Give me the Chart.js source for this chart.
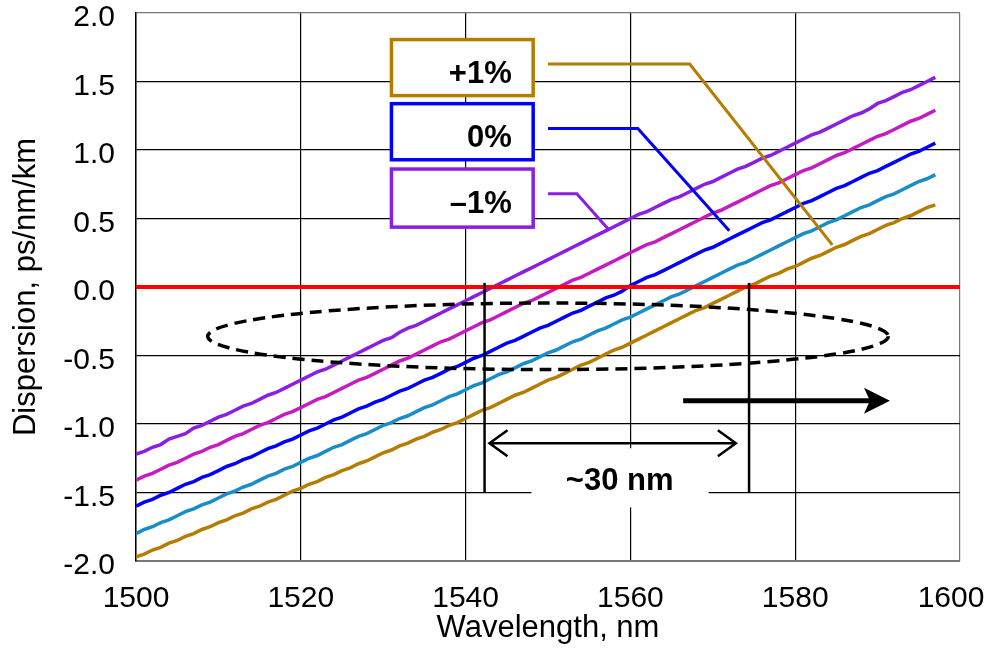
<!DOCTYPE html>
<html>
<head>
<meta charset="utf-8">
<script src="https://cdn.jsdelivr.net/npm/chart.js@4.4.1/dist/chart.umd.min.js"></script>
<style>
  body { margin: 0; background: #fff; }
  #wrap { width: 990px; height: 651px; }
</style>
</head>
<body>
<div id="wrap"><canvas id="chart" width="990" height="651"></canvas></div>
<script>
// wavelength, nm
const wavelengths = [
  1500, 1501, 1502, 1503, 1504, 1505, 1506, 1507, 1508, 1509,
  1510, 1511, 1512, 1513, 1514, 1515, 1516, 1517, 1518, 1519,
  1520, 1521, 1522, 1523, 1524, 1525, 1526, 1527, 1528, 1529,
  1530, 1531, 1532, 1533, 1534, 1535, 1536, 1537, 1538, 1539,
  1540, 1541, 1542, 1543, 1544, 1545, 1546, 1547, 1548, 1549,
  1550, 1551, 1552, 1553, 1554, 1555, 1556, 1557, 1558, 1559,
  1560, 1561, 1562, 1563, 1564, 1565, 1566, 1567, 1568, 1569,
  1570, 1571, 1572, 1573, 1574, 1575, 1576, 1577, 1578, 1579,
  1580, 1581, 1582, 1583, 1584, 1585, 1586, 1587, 1588, 1589,
  1590, 1591, 1592, 1593, 1594, 1595, 1596, 1597
];

// dispersion, ps/nm/km (one list per curve)
const dispMinus1 = [
  -1.22, -1.20, -1.17, -1.15, -1.11, -1.09, -1.07, -1.03, -1.01, -0.98,
  -0.95, -0.93, -0.90, -0.87, -0.85, -0.82, -0.79, -0.77, -0.74, -0.71,
  -0.68, -0.65, -0.62, -0.60, -0.57, -0.54, -0.51, -0.48, -0.45, -0.42,
  -0.39, -0.37, -0.33, -0.30, -0.28, -0.25, -0.22, -0.19, -0.16, -0.13,
  -0.10, -0.07, -0.04, -0.01, 0.02, 0.05, 0.08, 0.11, 0.14, 0.17,
  0.20, 0.23, 0.26, 0.29, 0.32, 0.35, 0.38, 0.41, 0.44, 0.47,
  0.50, 0.53, 0.55, 0.58, 0.61, 0.64, 0.66, 0.69, 0.72, 0.75,
  0.77, 0.80, 0.83, 0.86, 0.88, 0.91, 0.94, 0.96, 0.99, 1.02,
  1.05, 1.08, 1.11, 1.13, 1.16, 1.19, 1.22, 1.25, 1.27, 1.30,
  1.34, 1.36, 1.39, 1.42, 1.44, 1.47, 1.50, 1.53
];
const dispMinusHalf = [
  -1.41, -1.38, -1.36, -1.33, -1.30, -1.28, -1.25, -1.22, -1.20, -1.17,
  -1.15, -1.12, -1.09, -1.07, -1.04, -1.01, -0.99, -0.96, -0.93, -0.91,
  -0.88, -0.85, -0.82, -0.80, -0.77, -0.74, -0.71, -0.68, -0.66, -0.63,
  -0.60, -0.57, -0.54, -0.52, -0.49, -0.46, -0.43, -0.40, -0.38, -0.35,
  -0.32, -0.29, -0.26, -0.24, -0.21, -0.18, -0.15, -0.12, -0.10, -0.07,
  -0.04, -0.01, 0.02, 0.05, 0.07, 0.10, 0.13, 0.16, 0.19, 0.22,
  0.25, 0.28, 0.31, 0.33, 0.36, 0.39, 0.42, 0.45, 0.48, 0.51,
  0.54, 0.56, 0.59, 0.62, 0.65, 0.68, 0.71, 0.74, 0.76, 0.79,
  0.82, 0.85, 0.87, 0.90, 0.93, 0.96, 0.98, 1.01, 1.04, 1.07,
  1.10, 1.12, 1.15, 1.18, 1.21, 1.23, 1.26, 1.29
];
const dispZero = [
  -1.60, -1.57, -1.55, -1.52, -1.50, -1.47, -1.44, -1.42, -1.39, -1.37,
  -1.34, -1.31, -1.29, -1.26, -1.24, -1.21, -1.18, -1.16, -1.13, -1.11,
  -1.08, -1.05, -1.03, -1.00, -0.97, -0.95, -0.92, -0.89, -0.87, -0.84,
  -0.82, -0.79, -0.76, -0.74, -0.71, -0.68, -0.66, -0.63, -0.60, -0.58,
  -0.55, -0.52, -0.50, -0.47, -0.44, -0.41, -0.39, -0.36, -0.33, -0.30,
  -0.28, -0.25, -0.22, -0.19, -0.17, -0.14, -0.11, -0.08, -0.06, -0.03,
  0.01, 0.04, 0.07, 0.09, 0.12, 0.15, 0.18, 0.21, 0.24, 0.27,
  0.29, 0.32, 0.35, 0.38, 0.41, 0.44, 0.47, 0.49, 0.52, 0.55,
  0.58, 0.61, 0.63, 0.66, 0.69, 0.72, 0.74, 0.77, 0.80, 0.83,
  0.85, 0.88, 0.91, 0.94, 0.97, 0.99, 1.02, 1.05
];
const dispPlusHalf = [
  -1.80, -1.77, -1.75, -1.72, -1.70, -1.67, -1.64, -1.62, -1.59, -1.57,
  -1.54, -1.51, -1.49, -1.46, -1.44, -1.41, -1.38, -1.36, -1.33, -1.31,
  -1.28, -1.25, -1.23, -1.20, -1.17, -1.15, -1.12, -1.09, -1.07, -1.04,
  -1.01, -0.99, -0.96, -0.94, -0.91, -0.88, -0.86, -0.83, -0.80, -0.78,
  -0.75, -0.72, -0.70, -0.67, -0.64, -0.62, -0.59, -0.56, -0.54, -0.51,
  -0.48, -0.46, -0.43, -0.40, -0.38, -0.35, -0.32, -0.30, -0.27, -0.24,
  -0.22, -0.19, -0.16, -0.13, -0.10, -0.07, -0.05, -0.02, 0.01, 0.04,
  0.07, 0.10, 0.13, 0.16, 0.18, 0.21, 0.24, 0.27, 0.30, 0.33,
  0.36, 0.39, 0.41, 0.44, 0.47, 0.49, 0.52, 0.55, 0.58, 0.60,
  0.63, 0.66, 0.68, 0.71, 0.74, 0.77, 0.79, 0.82
];
const dispPlus1 = [
  -1.97, -1.95, -1.92, -1.90, -1.87, -1.85, -1.82, -1.80, -1.77, -1.75,
  -1.72, -1.70, -1.67, -1.65, -1.62, -1.60, -1.57, -1.55, -1.52, -1.49,
  -1.47, -1.44, -1.42, -1.39, -1.37, -1.34, -1.32, -1.29, -1.27, -1.24,
  -1.21, -1.19, -1.16, -1.14, -1.11, -1.09, -1.06, -1.04, -1.01, -0.99,
  -0.96, -0.93, -0.90, -0.88, -0.85, -0.82, -0.79, -0.77, -0.74, -0.71,
  -0.68, -0.66, -0.63, -0.60, -0.57, -0.55, -0.52, -0.49, -0.46, -0.44,
  -0.41, -0.38, -0.35, -0.32, -0.29, -0.26, -0.23, -0.20, -0.17, -0.15,
  -0.12, -0.09, -0.06, -0.03, 0.00, 0.02, 0.05, 0.08, 0.10, 0.13,
  0.15, 0.18, 0.21, 0.23, 0.26, 0.29, 0.31, 0.34, 0.37, 0.39,
  0.42, 0.45, 0.47, 0.50, 0.52, 0.55, 0.58, 0.60
];

const seriesNames = ["-1%", "-0.5%", "0%", "+0.5%", "+1%"];
const seriesValues = [dispMinus1, dispMinusHalf, dispZero, dispPlusHalf, dispPlus1];
const seriesColors = ["#8a1fe2", "#c41cc0", "#0000ff", "#1a8cc8", "#b47d00"];

const xTicks = [1500, 1520, 1540, 1560, 1580, 1600];
const yTicks = [-2.0, -1.5, -1.0, -0.5, 0.0, 0.5, 1.0, 1.5, 2.0];

// annotation geometry, in axis units
const legendBoxes = [
  { text: "+1%", color: "#b47d00", top: 1.806, bottom: 1.397, lead: [[1550.0, 1.628], [1567.2, 1.628], [1584.5, 0.307]] },
  { text: "0%", color: "#0000ff", top: 1.338, bottom: 0.929, lead: [[1550.0, 1.157], [1560.9, 1.157], [1572.0, 0.41]] },
  { text: "\u20131%", color: "#8a1fe2", top: 0.861, bottom: 0.437, lead: [[1550.0, 0.680], [1553.5, 0.680], [1557.3, 0.424]] }
];
const boxLeft = 1531.0, boxRight = 1548.2, boxTextX = 1545.6;
const markerX = [1542.3, 1574.4];
const markerTop = 0.03, markerBottom = -1.5;
const spanArrow = { from: 1542.9, to: 1572.8, y: -1.14 };
const spanLabel = { text: "~30 nm", x: 1558.7, y: -1.485, left: 1548.0, right: 1569.5, top: -1.177, bottom: -1.609 };
const shiftArrow = { from: 1566.4, to: 1591.5, y: -0.831 };
const ring = { x: 1550.0, y: -0.36, rx: 41.3, ry: 0.243 };

const FONT = "'Liberation Sans', Arial, Helvetica, sans-serif";

// keep the last x label inside the canvas
const lastLabelShift = {
  id: "lastLabelShift",
  beforeDraw(chart) {
    const items = chart.scales.x.getLabelItems();
    const last = items[items.length - 1];
    if (last && !last.shifted) {
      last.options.translation[0] -= 9;
      last.shifted = true;
    }
  }
};

// draws everything that is not a data curve
const overlay = {
  id: "overlay",
  afterDatasetsDraw(chart) {
    const ctx = chart.ctx;
    const X = (v) => chart.scales.x.getPixelForValue(v);
    const Y = (v) => chart.scales.y.getPixelForValue(v);
    ctx.save();

    // dashed ellipse
    ctx.beginPath();
    ctx.ellipse(X(ring.x), Y(ring.y), X(ring.x + ring.rx) - X(ring.x), Y(ring.y - ring.ry) - Y(ring.y), 0, 0, Math.PI * 2);
    ctx.setLineDash([12, 7]);
    ctx.lineWidth = 3.5;
    ctx.strokeStyle = "#000";
    ctx.stroke();
    ctx.setLineDash([]);

    // white patch behind the span label
    ctx.fillStyle = "#fff";
    ctx.fillRect(X(spanLabel.left), Y(spanLabel.top), X(spanLabel.right) - X(spanLabel.left), Y(spanLabel.bottom) - Y(spanLabel.top));
    ctx.fillStyle = "#000";
    ctx.font = "bold 31px " + FONT;
    ctx.textAlign = "center";
    ctx.textBaseline = "alphabetic";
    ctx.fillText(spanLabel.text, X(spanLabel.x), Y(spanLabel.y));

    // vertical markers
    ctx.lineWidth = 2.5;
    markerX.forEach((mx) => {
      ctx.beginPath();
      ctx.moveTo(X(mx), Y(markerTop));
      ctx.lineTo(X(mx), Y(markerBottom));
      ctx.stroke();
    });

    // double arrow
    const ay = Y(spanArrow.y), a0 = X(spanArrow.from), a1 = X(spanArrow.to);
    ctx.lineWidth = 2.5;
    ctx.beginPath();
    ctx.moveTo(a0, ay);
    ctx.lineTo(a1, ay);
    ctx.moveTo(a0 + 18, ay - 13);
    ctx.lineTo(a0, ay);
    ctx.lineTo(a0 + 18, ay + 13);
    ctx.moveTo(a1 - 18, ay - 13);
    ctx.lineTo(a1, ay);
    ctx.lineTo(a1 - 18, ay + 13);
    ctx.stroke();

    // thick shift arrow
    const sy = Y(shiftArrow.y), s0 = X(shiftArrow.from), s1 = X(shiftArrow.to);
    ctx.lineWidth = 5;
    ctx.beginPath();
    ctx.moveTo(s0, sy);
    ctx.lineTo(s1 - 15, sy);
    ctx.stroke();
    ctx.beginPath();
    ctx.moveTo(s1, sy);
    ctx.lineTo(s1 - 26, sy - 13);
    ctx.lineTo(s1 - 20, sy);
    ctx.lineTo(s1 - 26, sy + 13);
    ctx.closePath();
    ctx.fill();

    // legend boxes and leader lines
    legendBoxes.forEach((b) => {
      ctx.strokeStyle = b.color;
      ctx.lineWidth = 3;
      ctx.beginPath();
      b.lead.forEach(([lx, ly], i) => (i ? ctx.lineTo(X(lx), Y(ly)) : ctx.moveTo(X(lx), Y(ly))));
      ctx.stroke();

      const bx = X(boxLeft), by = Y(b.top), bw = X(boxRight) - bx, bh = Y(b.bottom) - by;
      ctx.fillStyle = "#fff";
      ctx.fillRect(bx, by, bw, bh);
      ctx.lineWidth = 3.5;
      ctx.strokeRect(bx, by, bw, bh);
      ctx.fillStyle = "#000";
      ctx.font = "bold 31px " + FONT;
      ctx.textAlign = "right";
      ctx.fillText(b.text, X(boxTextX), by + bh / 2 + 15);
    });

    ctx.restore();
  }
};

const datasets = seriesValues.map((vals, i) => ({
  label: seriesNames[i],
  data: vals.map((v, j) => ({ x: wavelengths[j], y: v })),
  borderColor: seriesColors[i],
  borderWidth: 3.5,
  pointRadius: 0,
  tension: 0,
  fill: false
}));
datasets.unshift({
  label: "zero",
  data: [{ x: xTicks[0], y: 0 }, { x: xTicks[xTicks.length - 1], y: 0 }],
  borderColor: "#ff0000",
  borderWidth: 4,
  pointRadius: 0
});

const edgeColor = (ctx, lo, hi) => (ctx.tick && (ctx.tick.value === lo || ctx.tick.value === hi) ? "#777" : "#000");

new Chart(document.getElementById("chart").getContext("2d"), {
  type: "line",
  data: { datasets },
  options: {
    responsive: false,
    animation: false,
    events: [],
    layout: { padding: { top: 13, right: 30, left: 0, bottom: 0 } },
    plugins: { legend: { display: false }, tooltip: { enabled: false } },
    scales: {
      x: {
        type: "linear",
        min: xTicks[0],
        max: xTicks[xTicks.length - 1],
        afterBuildTicks: (s) => { s.ticks = xTicks.map((v) => ({ value: v })); },
        afterFit: (s) => { s.height = 90; s.paddingLeft = 0; s.paddingRight = 0; },
        grid: { color: (c) => edgeColor(c, 1500, 1600), lineWidth: 1.2, drawTicks: false },
        border: { display: true, color: "#777", width: 2 },
        ticks: {
          padding: 20,
          color: "#000",
          font: { family: FONT, size: 30 },
          maxRotation: 0,
          autoSkip: false,
          callback: (v) => String(v)
        },
        title: { display: true, text: "Wavelength, nm", color: "#000", font: { family: FONT, size: 31 }, padding: { top: 0, bottom: 4 } }
      },
      y: {
        type: "linear",
        min: yTicks[0],
        max: yTicks[yTicks.length - 1],
        afterBuildTicks: (s) => { s.ticks = yTicks.map((v) => ({ value: v })); },
        afterFit: (s) => { s.width = 136; s.paddingTop = 0; s.paddingBottom = 0; },
        grid: { color: (c) => edgeColor(c, -2, 2), lineWidth: 1.2, drawTicks: false },
        border: { display: true, color: "#000", width: 1.5 },
        ticks: {
          padding: 21,
          labelOffset: 5,
          color: "#000",
          font: { family: FONT, size: 30 },
          callback: (v) => v.toFixed(1)
        },
        title: { display: true, text: "Dispersion, ps/nm/km", color: "#000", font: { family: FONT, size: 31 }, padding: { top: 8, bottom: 0 } }
      }
    }
  },
  plugins: [lastLabelShift, overlay]
});
</script>
</body>
</html>
